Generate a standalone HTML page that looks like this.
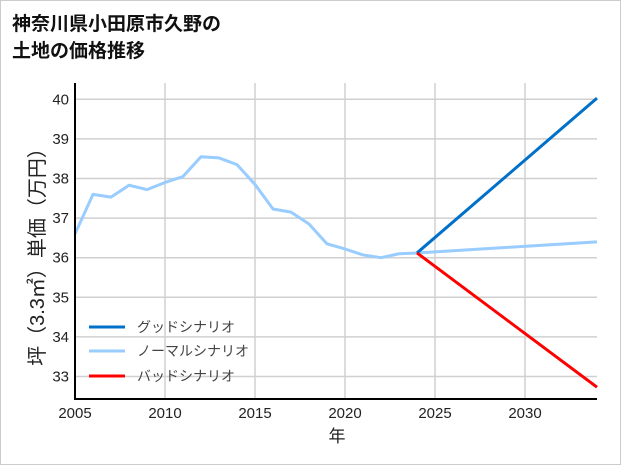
<!DOCTYPE html>
<html><head><meta charset="utf-8"><style>
body{margin:0;background:#fff}
svg{display:block;font-family:"Liberation Sans","Noto Sans CJK JP",sans-serif}
</style></head><body>
<svg width="621" height="465">
<rect x="0.5" y="0.5" width="620" height="464" fill="#fff" stroke="#ccc"/>
<text x="12" y="30" font-size="19" font-weight="bold" fill="#111">神奈川県小田原市久野の</text>
<text x="12" y="57" font-size="19" font-weight="bold" fill="#111">土地の価格推移</text>
<g id="grid"></g><g id="lines"></g><g id="axes"></g>
<text x="337" y="442" font-size="17" text-anchor="middle" fill="#222">年</text>
<text transform="translate(44,252) rotate(-90)" font-size="20" text-anchor="middle" fill="#222">坪（3.3㎡）単価（万円）</text>
<g>
<line x1="89" y1="327" x2="125" y2="327" stroke="#0070c8" stroke-width="3"/>
<text x="137" y="332" font-size="14" fill="#444">グッドシナリオ</text>
<line x1="89" y1="351" x2="125" y2="351" stroke="#99ccff" stroke-width="3"/>
<text x="137" y="356" font-size="14" fill="#444">ノーマルシナリオ</text>
<line x1="89" y1="376" x2="125" y2="376" stroke="#ff0000" stroke-width="3"/>
<text x="137" y="381" font-size="14" fill="#444">バッドシナリオ</text>
</g>
</svg>
<script>
const years=[2005,2006,2007,2008,2009,2010,2011,2012,2013,2014,2015,2016,2017,2018,2019,2020,2021,2022,2023,2024];
const normalVals=[36.6,37.6,37.53,37.83,37.72,37.9,38.05,38.55,38.52,38.35,37.85,37.23,37.15,36.85,36.35,36.22,36.07,36.0,36.1,36.12];
const projYears=[2024,2034];
const goodVals=[36.12,40.03];
const normalProj=[36.12,36.4];
const badVals=[36.12,32.73];
const xTicks=[2005,2010,2015,2020,2025,2030];
const yTicks=[33,34,35,36,37,38,39,40];
const NS='http://www.w3.org/2000/svg';
const X0=75,X1=597,Y0=399,Y1=83;
const xs=v=>75+(v-2005)*18;
const ys=v=>376.5-(v-33)*39.6;
function mk(t,a,p){const e=document.createElementNS(NS,t);for(const k in a)e.setAttribute(k,a[k]);p.appendChild(e);return e;}
const grid=document.getElementById('grid'),lines=document.getElementById('lines'),axes=document.getElementById('axes');
xTicks.forEach(t=>{
 const g=mk('line',{x1:xs(t),x2:xs(t),y1:Y1,y2:Y0,stroke:'#d0d0d0','stroke-width':1.5},grid);
 
 
 const l=mk('text',{x:xs(t),y:418,'font-size':15,'text-anchor':'middle',fill:'#222'},axes);
 l.textContent=t;
 
 
});
yTicks.forEach(t=>{
 const g=mk('line',{x1:X0,x2:X1,y1:ys(t),y2:ys(t),stroke:'#d0d0d0','stroke-width':1.5},grid);
 
 
 const l=mk('text',{x:69,y:ys(t)+5,'font-size':15,'text-anchor':'end',fill:'#222'},axes);
 l.textContent=t;
 
 
});
function series(xv,yv,c,name){
 const p=mk('polyline',{points:xv.map((x,i)=>xs(x)+','+ys(yv[i])).join(' '),fill:'none',stroke:c,'stroke-width':3,'stroke-linejoin':'round'},lines);
 
 
}
series(years,normalVals,'#99ccff','normal-history-line');
series(projYears,normalProj,'#99ccff','normal-scenario-line');
series(projYears,goodVals,'#0070c8','good-scenario-line');
series(projYears,badVals,'#ff0000','bad-scenario-line');
const ya=mk('line',{x1:X0,x2:X0,y1:Y1,y2:Y0+1,stroke:'#000','stroke-width':2},axes);


const xa=mk('line',{x1:X0-1,x2:X1,y1:Y0,y2:Y0,stroke:'#000','stroke-width':2},axes);


</script>
</body></html>
